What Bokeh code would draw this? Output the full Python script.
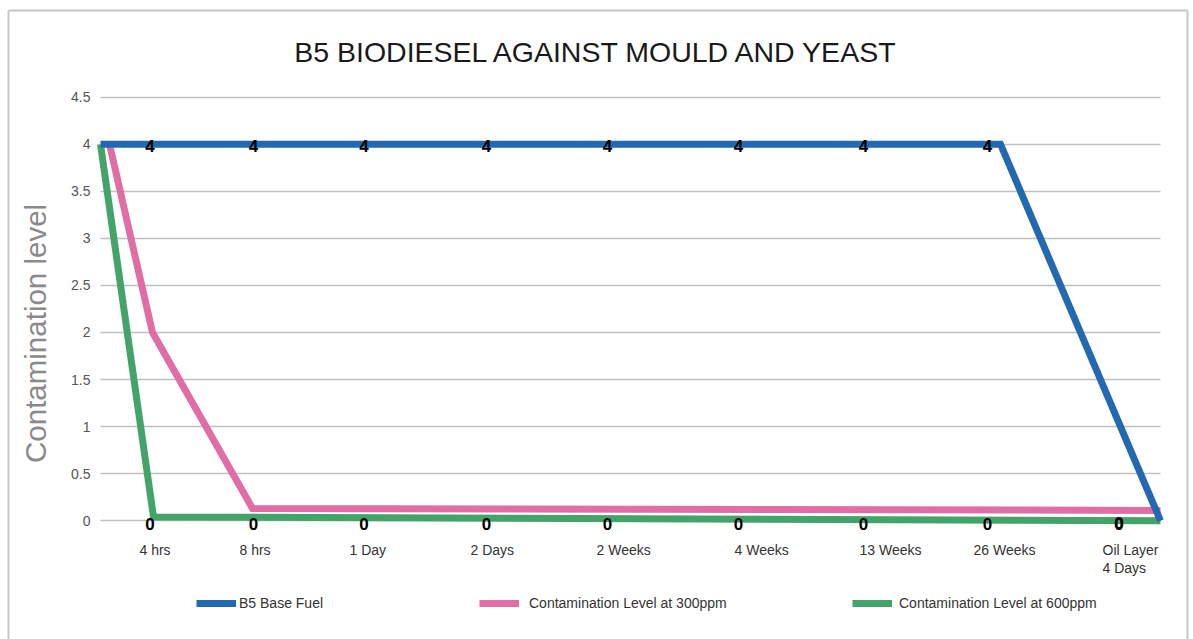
import math
from bokeh.plotting import figure
from bokeh.models import (Range1d, FixedTicker, ColumnDataSource, LabelSet, Label,
                          Legend, LegendItem, Grid)
from bokeh.core.properties import value
from bokeh.embed import file_html
from bokeh.resources import INLINE

# ---------------- data ----------------
title_text = "B5 BIODIESEL AGAINST MOULD AND YEAST"
y_axis_title = "Contamination level"

categories = ["4 hrs", "8 hrs", "1 Day", "2 Days", "2 Weeks", "4 Weeks",
              "13 Weeks", "26 Weeks", "Oil Layer\n4 Days"]
# position of each category along the time axis (chart units)
category_x = [49.5, 153, 263.5, 386, 507, 638, 763, 887, 1018.5]
# where each category name starts
category_label_x = [39, 139, 249, 370, 496, 634, 759, 873, 1002]

# value labels shown at each category
b5_labels = [4, 4, 4, 4, 4, 4, 4, 4, 0]
ppm600_labels = [0, 0, 0, 0, 0, 0, 0, 0, 0]

# series traces (x in chart units, y = contamination level)
b5_x = [0, 900, 1060]
b5_y = [4, 4, 0]
ppm300_x = [9, 52, 152, 1060]
ppm300_y = [4, 2, 0.13, 0.11]
ppm600_x = [0, 53, 1060]
ppm600_y = [4, 0.04, 0.0]

series_names = ["B5 Base Fuel", "Contamination Level at 300ppm",
                "Contamination Level at 600ppm"]

y_ticks = [0, 0.5, 1, 1.5, 2, 2.5, 3, 3.5, 4, 4.5]
y_tick_labels = ["0", "0.5", "1", "1.5", "2", "2.5", "3", "3.5", "4", "4.5"]

# ---------------- style ----------------
FONT = "Liberation Sans"
BLUE = "#2369b2"
PINK = "#e06ea4"
GREEN = "#43a368"
GRID = "#c0c0c0"
FRAME_COLOR = "#c6c6c6"
X_START, X_END = 0, 1060            # plotting area along x
BOX_LEFT, BOX_RIGHT = -92, 1087     # outer chart box (x)
BOX_TOP = 5.4206                    # outer chart box (y)
Y_MIN, Y_MAX = -1.2615, 5.4418

p = figure(width=1193, height=639, output_backend="svg", toolbar_location=None,
           x_range=Range1d(-94, 1089), y_range=Range1d(Y_MIN, Y_MAX),
           x_axis_location=None, y_axis_location=None,
           min_border_left=6, min_border_right=4, min_border_top=8,
           min_border_bottom=0, title=None)
p.outline_line_color = None
p.background_fill_color = "white"
p.border_fill_color = "white"
p.grid.visible = False

has_cb = "cross_bounds" in Grid.properties()

# horizontal value grid
if has_cb:
    p.add_layout(Grid(dimension=1, ticker=FixedTicker(ticks=y_ticks),
                      cross_bounds=(X_START, X_END), grid_line_color=GRID,
                      grid_line_width=1.5))
    # outer box: left/right sides and top edge
    p.add_layout(Grid(dimension=0, ticker=FixedTicker(ticks=[BOX_LEFT, BOX_RIGHT]),
                      cross_bounds=(Y_MIN, BOX_TOP), grid_line_color=FRAME_COLOR,
                      grid_line_width=2))
    p.add_layout(Grid(dimension=1, ticker=FixedTicker(ticks=[BOX_TOP]),
                      cross_bounds=(BOX_LEFT, BOX_RIGHT), grid_line_color=FRAME_COLOR,
                      grid_line_width=2))
else:
    p.segment(x0=[X_START] * len(y_ticks), x1=[X_END] * len(y_ticks), y0=y_ticks,
              y1=y_ticks, line_color=GRID, line_width=1.5)
    p.line([BOX_LEFT, BOX_LEFT, BOX_RIGHT, BOX_RIGHT], [Y_MIN, BOX_TOP, BOX_TOP, Y_MIN],
           line_color=FRAME_COLOR, line_width=2)

# y tick labels
p.add_layout(LabelSet(x=X_START, y="y", text="t", x_offset=-10,
                      source=ColumnDataSource(dict(y=y_ticks, t=y_tick_labels)),
                      text_align="right", text_baseline="middle", text_font=value(FONT),
                      text_font_size="14px", text_color="#555555"))
# x category labels
p.add_layout(LabelSet(x="x", y=0, text="t", y_offset=-21,
                      source=ColumnDataSource(dict(x=category_label_x, t=categories)),
                      text_align="left", text_baseline="top", text_font=value(FONT),
                      text_font_size="14px", text_color="#333333",
                      text_line_height=1.15))

r_green = p.line(ppm600_x, ppm600_y, line_color=GREEN, line_width=7, line_join="miter")
r_pink = p.line(ppm300_x, ppm300_y, line_color=PINK, line_width=7, line_join="miter")
r_blue = p.line(b5_x, b5_y, line_color=BLUE, line_width=7, line_join="miter")

# data labels
src_b5 = ColumnDataSource(dict(x=category_x, y=b5_labels, t=[str(v) for v in b5_labels]))
src_600 = ColumnDataSource(dict(x=category_x, y=ppm600_labels, t=[str(v) for v in ppm600_labels]))
for src, yoff in ((src_600, -3), (src_b5, -2)):
    p.add_layout(LabelSet(x="x", y="y", text="t", source=src, text_align="center",
                          text_baseline="middle", y_offset=yoff, text_font=value(FONT),
                          text_font_style="bold", text_font_size="17px",
                          text_color="black"))

# title and axis title
p.add_layout(Label(x=497, y=4.975, text=title_text, text_align="center",
                   text_baseline="middle", text_font=FONT, text_font_size="28.5px",
                   text_color="#1a1a1a"))
p.add_layout(Label(x=-65, y=1.99, text=y_axis_title, angle=math.pi / 2,
                   text_align="center", text_baseline="middle", text_font=FONT,
                   text_font_size="29.5px", text_color="#8a8a8a"))

# legends
for r, name, vx, standoff in ((r_blue, series_names[0], 190, 3),
                              (r_pink, series_names[1], 473, 10),
                              (r_green, series_names[2], 846, 7)):
    lg = Legend(items=[LegendItem(label=name, renderers=[r])], location=(vx, 26),
                orientation="horizontal", padding=0, margin=0, border_line_color=None,
                background_fill_alpha=0, glyph_width=40, glyph_height=20,
                label_standoff=standoff, label_text_font=FONT,
                label_text_font_size="14px", label_text_color="#333333")
    p.add_layout(lg)

open("out.html", "w").write(file_html(p, INLINE))
